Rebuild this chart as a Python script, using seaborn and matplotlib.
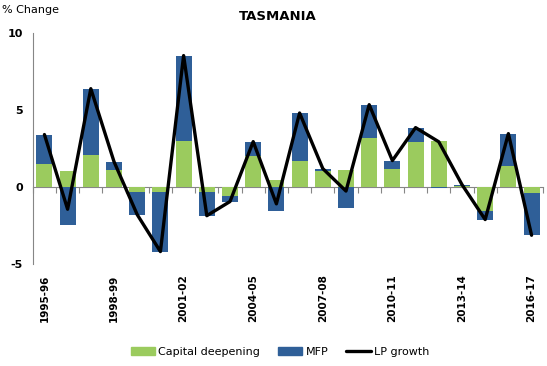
import numpy as np
import pandas as pd
import matplotlib
matplotlib.use("Agg")
import matplotlib.pyplot as plt
import matplotlib.transforms as mtransforms
from matplotlib.patches import Patch
from matplotlib.lines import Line2D
import seaborn as sns

years = ["1995-96", "1996-97", "1997-98", "1998-99", "1999-00", "2000-01",
         "2001-02", "2002-03", "2003-04", "2004-05", "2005-06", "2006-07",
         "2007-08", "2008-09", "2009-10", "2010-11", "2011-12", "2012-13",
         "2013-14", "2014-15", "2015-16", "2016-17"]
capital_deepening = [1.5, 1.05, 2.1, 1.12, -0.3, -0.3, 3.0, -0.3, -0.6, 1.99, 0.47,
                     1.71, 1.06, 1.12, 3.2, 1.19, 2.94, 3.0, 0.08, -1.54, 1.38, -0.41]
mfp = [1.9, -2.5, 4.28, 0.52, -1.5, -3.9, 5.53, -1.57, -0.35, 0.95, -1.58,
       3.09, 0.13, -1.39, 2.14, 0.52, 0.91, -0.07, 0.07, -0.58, 2.08, -2.73]
lp_growth = [3.4, -1.45, 6.38, 1.64, -1.8, -4.2, 8.53, -1.87, -0.95, 2.94, -1.1,
             4.8, 1.19, -0.27, 5.34, 1.71, 3.85, 2.93, 0.15, -2.12, 3.46, -3.14]
shown_labels = ["1995-96", "1998-99", "2001-02", "2004-05",
                "2007-08", "2010-11", "2013-14", "2016-17"]

green = "#9BCB5E"
blue = "#2F5F98"
grey = "#868686"

df = pd.DataFrame({"year": years, "cd": capital_deepening, "mfp": mfp, "lp": lp_growth})
df["idx"] = np.arange(len(df))
# MFP stacks on top of capital deepening when both share a sign, else from zero
df["mfp_bottom"] = np.where(np.sign(df["cd"]) == np.sign(df["mfp"]), df["cd"], 0.0)

sns.set_style("white")
plt.rcParams["font.family"] = ["DejaVu Sans"]
plt.rcParams["text.color"] = "black"
plt.rcParams["xtick.color"] = "black"
plt.rcParams["ytick.color"] = "black"

fig = plt.figure(figsize=(5.47, 3.66), dpi=100)
ax = fig.add_axes([0.060, 0.279, 0.933, 0.631])

sns.barplot(data=df, x="idx", y="cd", color=green, width=0.69,
            saturation=1, ax=ax, native_scale=True, linewidth=0)
ax.bar(df["idx"], df["mfp"], bottom=df["mfp_bottom"], width=0.69,
       color=blue, linewidth=0)
sns.lineplot(data=df, x="idx", y="lp", color="black", linewidth=2.4, ax=ax)

ax.set_xlim(-0.5, len(years) - 0.5)
ax.set_ylim(-5, 10)
ax.set_yticks([-5, 0, 5, 10])
ax.set_yticklabels(["-5", "0", "5", "10"], fontsize=8, fontweight="bold")
ax.set_xlabel("")
ax.set_ylabel("")

for side in ["top", "right", "bottom"]:
    ax.spines[side].set_visible(False)
ax.spines["left"].set_color(grey)
ax.tick_params(axis="y", direction="out", length=4, color=grey, labelcolor="black",
               width=1, pad=3)
ax.tick_params(axis="x", length=0, labelbottom=False)

# zero line with category boundary ticks
zero = ax.secondary_xaxis(1 / 3)
zero.set_xticks(np.arange(len(years) + 1) - 0.5)
zero.tick_params(direction="out", length=4, color=grey, labelbottom=False)
zero.spines["bottom"].set_color(grey)

trans = mtransforms.blended_transform_factory(ax.transData, ax.transAxes)
for i, y in enumerate(years):
    if y in shown_labels:
        ax.text(i, -0.045, y, transform=trans, rotation=90, ha="center", va="top",
                fontsize=7.5, fontweight="bold", color="black")

fig.text(0.507, 0.955, "TASMANIA", ha="center", va="center",
         fontsize=9.5, fontweight="bold", color="black")
fig.text(0.004, 0.972, "% Change", ha="left", va="center", fontsize=8, color="black")

handles = [Patch(color=green, label="Capital deepening"),
           Patch(color=blue, label="MFP"),
           Line2D([0], [0], color="black", linewidth=2.4, label="LP growth")]
fig.legend(handles=handles, loc="center", bbox_to_anchor=(0.512, 0.038), ncol=3,
           frameon=False, fontsize=8, handlelength=2.2, handletextpad=0.3,
           columnspacing=1.6, labelcolor="black")

fig.savefig("out.png", dpi=100)
